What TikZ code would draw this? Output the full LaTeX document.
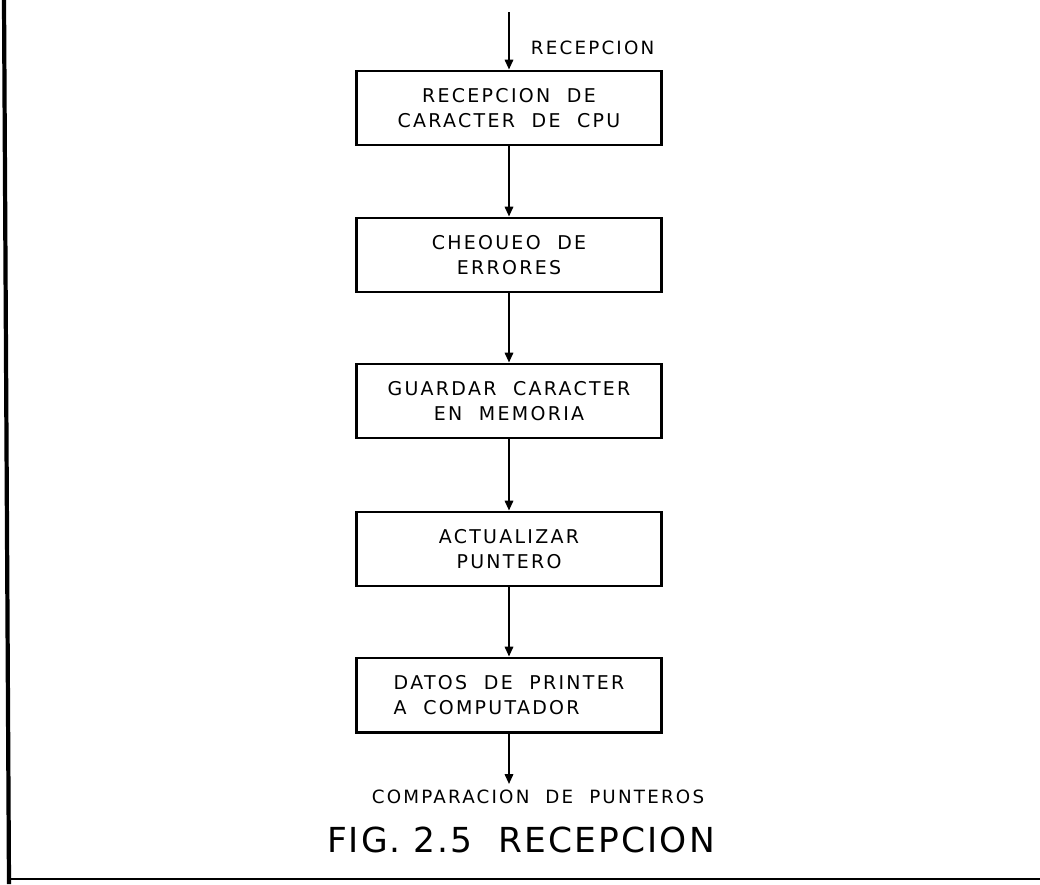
\documentclass[tikz,border=0pt]{standalone}
\usepackage{fontspec}
\usepackage{tikz}
\usetikzlibrary{arrows.meta,positioning}
\newfontfamily\lettering[LetterSpace=12]{DejaVu Sans}
\newfontfamily\titlefont[LetterSpace=6]{DejaVu Sans}

\begin{document}
\begin{tikzpicture}[x=0.025cm,y=-0.025cm,>={Triangle[length=7pt,width=6pt]},
  paso/.style={draw,line width=2.1pt,minimum width=7.6cm,minimum height=1.85cm,
    align=center,font=\lettering\fontsize{13.5}{17.8}\selectfont},
  lbl/.style={font=\lettering\fontsize{13}{14}\selectfont},
  flecha/.style={->,line width=1.3pt}]
  \useasboundingbox (0,0) rectangle (1040,884);
  % marco
  \draw[line width=3pt] (4,0) -- (9,884);
  \draw[line width=2pt] (8,879) -- (1040,879);

  \foreach \i/\yy/\txt in {1/108/{RECEPCION\ \ DE\\CARACTER\ \ DE\ \ CPU},
      2/255/{CHEOUEO\ \ DE\\ERRORES}, 3/401/{GUARDAR\ \ CARACTER\\EN\ \ MEMORIA},
      4/549/{ACTUALIZAR\\PUNTERO}}
    \node[paso] (b\i) at (509,\yy) {\txt};
  \node[paso,align=left] (b5) at (509,695) {DATOS\ \ DE\ \ PRINTER\\A\ \ COMPUTADOR};

  \coordinate (entrada) at (509,12);
  \coordinate (salida) at (509,784);
  \draw[flecha] (entrada) -- (b1.north);
  \foreach \a/\b in {b1/b2,b2/b3,b3/b4,b4/b5}
    \draw[flecha] (\a.south) -- (\b.north);
  \draw[flecha] (b5.south) -- (salida);

  \node[lbl,anchor=west] (lin) at (526,48) {RECEPCION};
  \node[lbl] (lout) at (538,797) {COMPARACION\ \ DE\ \ PUNTEROS};
  \node[font=\titlefont\fontsize{24.5}{28}\selectfont] (fig) at (521,840)
    {FIG.\ 2.5\ \ RECEPCION};
\end{tikzpicture}
\end{document}
